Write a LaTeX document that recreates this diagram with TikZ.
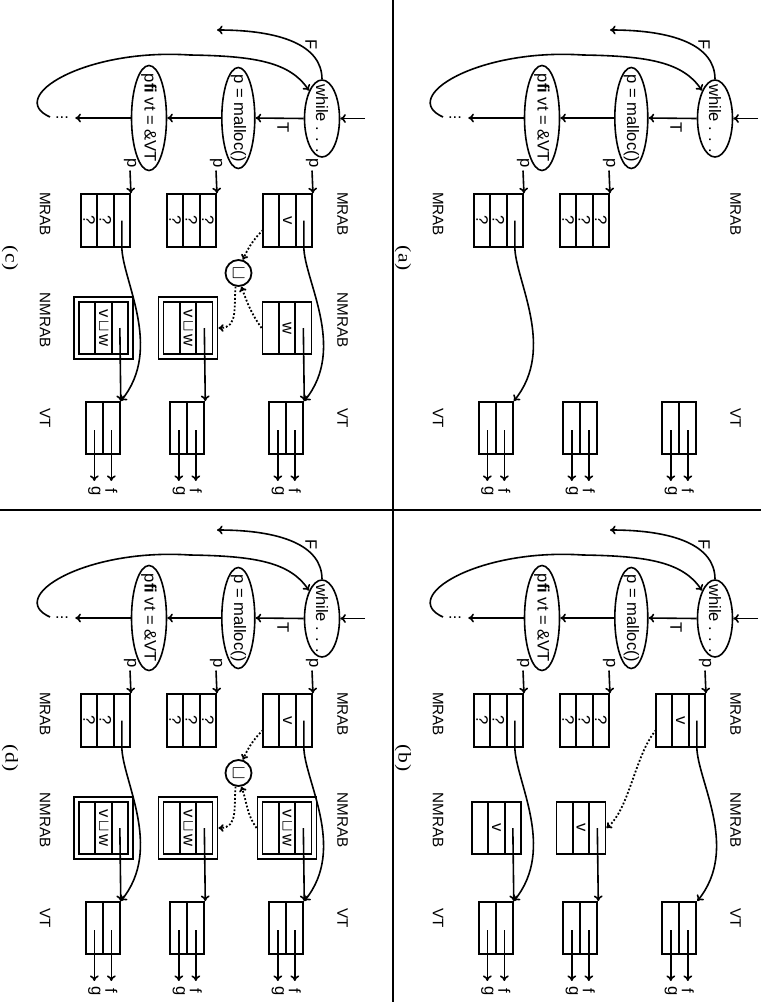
\documentclass[tikz,border=0pt]{standalone}
\usepackage{fontspec}
\usepackage{graphicx}
\setsansfont{Liberation Sans}
\newfontfamily\capfont{Liberation Serif}
\usetikzlibrary{shapes.geometric,arrows.meta}

\tikzset{
  txt/.style={font=\fontsize{8.3}{10}\selectfont\sffamily, inner sep=1pt},
  lbl/.style={font=\fontsize{7.6}{9}\selectfont\sffamily, inner sep=0pt},
  capt/.style={font=\capfont\fontsize{9}{10.8}\selectfont, inner sep=0pt},
  ell/.style={draw, ellipse, line width=0.8pt, inner sep=0pt},
  cbox/.style={draw, line width=0.95pt, minimum width=26.25pt, minimum height=24.5pt, inner sep=0pt},
  obox/.style={draw, line width=0.95pt, minimum width=31.25pt, minimum height=29.5pt, inner sep=0pt},
  vbox/.style={draw, line width=0.95pt, minimum width=26pt, minimum height=17pt, inner sep=0pt},
  ucirc/.style={draw, circle, line width=0.9pt, minimum size=13pt, inner sep=0pt, font=\fontsize{10}{11}\selectfont},
  arr/.style={line width=0.8pt, -{To[length=2.8pt,width=4.4pt]}},
  dotarr/.style={line width=0.9pt, densely dotted, -{To[length=2.6pt,width=3.8pt]}},
  sepline/.style={line width=1.4pt},
}

% three-cell box: name, cx, cy, top, middle, bottom
\newcommand\tbox[6]{%
  \node[cbox] (#1) at (#2,#3) {};
  \pgfmathsetmacro\tbxa{#2-26.25}%
  \pgfmathsetmacro\tbxb{#2+26.25}%
  \pgfmathsetmacro\tbya{#3+8.1667}%
  \pgfmathsetmacro\tbyb{#3-8.1667}%
  \pgfmathsetmacro\tbyt{#3+16.333}%
  \pgfmathsetmacro\tbyd{#3-16.333}%
  \draw[line width=0.95pt] (\tbxa,\tbya) -- (\tbxb,\tbya) (\tbxa,\tbyb) -- (\tbxb,\tbyb);
  \coordinate (#1t) at (#2,\tbyt);
  \coordinate (#1e) at (\tbxb,\tbyt);
  \node[txt] (#1ct) at (#2,\tbyt) {#4};
  \node[txt] (#1cm) at (#2,#3) {#5};
  \node[txt] (#1cb) at (#2,\tbyd) {#6};
}
% VT box: name, cy
\newcommand\vtb[2]{%
  \node[vbox] (#1) at (428,#2) {};
  \draw[line width=0.95pt] (#1.west) -- (#1.east);
  \pgfmathsetmacro\vya{#2+8.5}%
  \pgfmathsetmacro\vyb{#2-8.5}%
  \coordinate (#1f) at (430,\vya);
  \coordinate (#1g) at (430,\vyb);
  \coordinate (#1fe) at (481,\vya);
  \coordinate (#1ge) at (481,\vyb);
  \node[txt] (#1fl) at (491,\vya) {f};
  \node[txt] (#1gl) at (491,\vyb) {g};
  \draw[arr] (#1f) -- (#1fe);
  \draw[arr] (#1g) -- (#1ge);
}
\newcommand\toplab[3]{%
  \node[lbl] (#1top) at (#2,342.5) {#3};
  \node[lbl] (#1bot) at (#2,45) {#3};
}
\newcommand\pl[2]{\node[txt] (#1) at (163.5,#2) {p};}
\newcommand\mcurve[2]{\draw[arr] (#1t) -- (#1e) .. controls +(33,0) and +(-53,43) .. (#2.north west);}
\newcommand\capt[1]{\node[capt] (cap) at (258,10) {\scalebox{1.2}[1]{(\kern.04em #1\kern.04em)}};}

\newcommand\flow{%
  \coordinate (in) at (118.5,365);
  \node[ell, minimum width=38.5pt, minimum height=17.5pt] (wh) at (118.5,322) {};
  \node[txt] (whtxt) at (wh) {while . . .};
  \node[ell, minimum width=50.5pt, minimum height=16.5pt] (ma) at (118,238.3) {};
  \node[txt] (matxt) at (ma) {p = malloc()};
  \node[ell, minimum width=52.5pt, minimum height=17.5pt] (vt) at (118,149) {};
  \node[txt] (vttxt) at (vt) {p\textbf{fi} vt = \&VT};
  \node[txt, rotate=90, inner sep=3pt] (dots) at (118,62) {...};
  \coordinate (Fe) at (30,217);
  \coordinate (ls) at (117,50);
  \node[txt] (T) at (127.5,283) {T};
  \node[txt] (F) at (45,311) {F};
  \draw[arr] (in) -- (wh.north);
  \draw[arr] (wh.south) -- (ma.north);
  \draw[arr] (ma.south) -- (vt.north);
  \draw[arr] (vt.south) -- (dots.east);
  \draw[arr] (wh.west) .. controls (45,322) and (30,280) .. (Fe);
  \draw[arr] (ls) .. controls (97,5) and (48,85) .. (55,190) .. controls (56,255) and (62,290) .. (wh.south west);
  \vtb{v1}{286.33}
  \vtb{v2}{187.33}
  \vtb{v3}{102.83}
}

\begin{document}
\begin{tikzpicture}[x=0.5pt,y=0.5pt,rotate=-90,transform shape]
\path[use as bounding box] (0,0) rectangle (1002,761);
\draw[sepline] (510,0) -- (510,761);
\draw[sepline] (0,393) -- (1002,393);

% ---------- (a)
\begin{scope}[shift={(0,393)}, name prefix=a-]
  \flow
  \toplab{ml}{214}{MRAB}
  \toplab{vl}{418}{VT}
  \pl{p2}{216}
  \pl{p3}{130}
  \tbox{m2}{220.5}{191.5}{?}{?}{?}
  \tbox{m3}{220.5}{105.5}{}{?}{?}
  \draw[arr] (p2.east) -- (m2.north west);
  \draw[arr] (p3.east) -- (m3.north west);
  \mcurve{m3}{v3}
  \capt{a}
\end{scope}

% ---------- (b)
\begin{scope}[shift={(500,393)}, name prefix=b-]
  \flow
  \toplab{ml}{214}{MRAB}
  \toplab{nl}{320}{NMRAB}
  \toplab{vl}{418}{VT}
  \pl{p1}{312}
  \pl{p2}{216}
  \pl{p3}{130}
  \tbox{m1}{220.5}{287.5}{}{v}{}
  \tbox{m2}{220.5}{191.5}{?}{?}{?}
  \tbox{m3}{220.5}{105.5}{}{?}{?}
  \tbox{n2}{328}{188}{}{v}{}
  \tbox{n3}{328}{103.5}{}{v}{}
  \draw[arr] (p1.east) -- (m1.north west);
  \draw[arr] (p2.east) -- (m2.north west);
  \draw[arr] (p3.east) -- (m3.north west);
  \mcurve{m1}{v1}
  \mcurve{m3}{v3}
  \draw[arr] (n2t) -- (v2.north west);
  \draw[arr] (n3t) -- (v3.north west);
  \coordinate (m1d) at (230,263);
  \draw[dotarr] (m1d) .. controls +(25,-21) and +(-19,23) .. (n2.north);
  \capt{b}
\end{scope}

% ---------- (c)
\begin{scope}[shift={(0,0)}, name prefix=c-]
  \flow
  \toplab{ml}{214}{MRAB}
  \toplab{nl}{320}{NMRAB}
  \toplab{vl}{418}{VT}
  \pl{p1}{312}
  \pl{p2}{216}
  \pl{p3}{130}
  \tbox{m1}{220.5}{287.5}{}{v}{}
  \tbox{m2}{220.5}{191.5}{?}{?}{?}
  \tbox{m3}{220.5}{105.5}{}{?}{?}
  \tbox{n1}{328}{287}{}{w}{}
  \tbox{n2}{328}{188}{}{v\,$\sqcup$\,w}{}
  \node[obox] (n2o) at (n2) {};
  \tbox{n3}{328}{103.5}{}{v\,$\sqcup$\,w}{}
  \node[obox] (n3o) at (n3) {};
  \node[ucirc] (u) at (273,238.5) {$\sqcup$};
  \draw[arr] (p1.east) -- (m1.north west);
  \draw[arr] (p2.east) -- (m2.north west);
  \draw[arr] (p3.east) -- (m3.north west);
  \mcurve{m1}{v1}
  \mcurve{m3}{v3}
  \draw[arr] (n1t) -- (v1.north west);
  \draw[arr] (n2t) -- (v2.north west);
  \draw[arr] (n3t) -- (v3.north west);
  \coordinate (m1d) at (230,263);
  \draw[dotarr] (m1d) .. controls +(10,-10) and +(-12.7,5.9) .. (u.162);
  \draw[dotarr] (n1.south) .. controls +(-14.7,-10.3) and +(17,6) .. (u.12);
  \draw[dotarr] (u.-12) .. controls +(20,-2) and +(0,20) .. (n2o.north);
  \capt{c}
\end{scope}

% ---------- (d)
\begin{scope}[shift={(500,0)}, name prefix=d-]
  \flow
  \toplab{ml}{214}{MRAB}
  \toplab{nl}{320}{NMRAB}
  \toplab{vl}{418}{VT}
  \pl{p1}{312}
  \pl{p2}{216}
  \pl{p3}{130}
  \tbox{m1}{220.5}{287.5}{}{v}{}
  \tbox{m2}{220.5}{191.5}{?}{?}{?}
  \tbox{m3}{220.5}{105.5}{}{?}{?}
  \tbox{n1}{328}{287}{}{v\,$\sqcup$\,w}{}
  \node[obox] (n1o) at (n1) {};
  \tbox{n2}{328}{188}{}{v\,$\sqcup$\,w}{}
  \node[obox] (n2o) at (n2) {};
  \tbox{n3}{328}{103.5}{}{v\,$\sqcup$\,w}{}
  \node[obox] (n3o) at (n3) {};
  \node[ucirc] (u) at (273,238.5) {$\sqcup$};
  \draw[arr] (p1.east) -- (m1.north west);
  \draw[arr] (p2.east) -- (m2.north west);
  \draw[arr] (p3.east) -- (m3.north west);
  \mcurve{m1}{v1}
  \mcurve{m3}{v3}
  \draw[arr] (n1t) -- (v1.north west);
  \draw[arr] (n2t) -- (v2.north west);
  \draw[arr] (n3t) -- (v3.north west);
  \coordinate (m1d) at (230,263);
  \draw[dotarr] (m1d) .. controls +(10,-10) and +(-12.7,5.9) .. (u.162);
  \draw[dotarr] (n1o.south) .. controls +(-14.7,-10.3) and +(17,6) .. (u.12);
  \draw[dotarr] (u.-12) .. controls +(20,-2) and +(0,20) .. (n2o.north);
  \capt{d}
\end{scope}
\end{tikzpicture}
\end{document}
